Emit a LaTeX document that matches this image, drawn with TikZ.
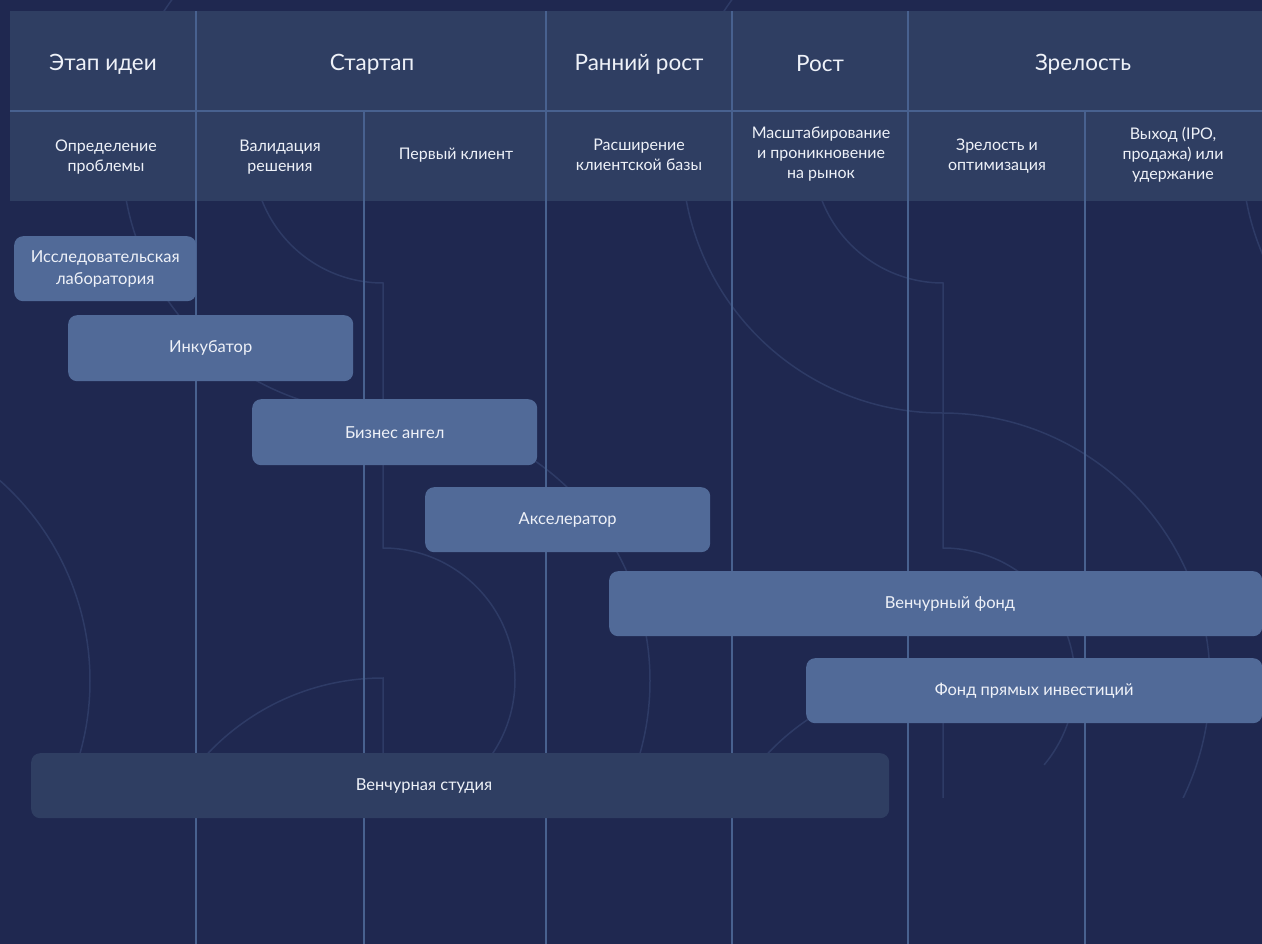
\documentclass[tikz,border=0pt]{standalone}
\usepackage{fontspec}
\setmainfont{Lato}
\definecolor{bg}{HTML}{1F2850}
\definecolor{hdr}{HTML}{2F3E62}
\definecolor{grid}{HTML}{48618F}
\definecolor{bar}{HTML}{516A98}
\definecolor{faint}{HTML}{2E3B66}
\definecolor{txt}{HTML}{EEF1F8}
\begin{document}
\begin{tikzpicture}[x=1pt,y=-1pt,
  stagetxt/.style={text=txt, font=\fontsize{22.5}{26}\selectfont, align=center, inner sep=0pt},
  subtxt/.style={text=txt, font=\fontsize{16}{20}\selectfont, align=center, inner sep=0pt},
  phasebox/.style={fill=bar, rounded corners=9pt, anchor=north west, inner sep=0pt, text=txt, font=\fontsize{16.5}{22}\selectfont, align=center},
  studiobox/.style={phasebox, fill=hdr},
  bartxt/.style={text=txt, font=\fontsize{16.5}{22}\selectfont, inner sep=0pt},
  gridline/.style={draw=grid, line width=1.5pt},
  deco/.style={draw=faint, line width=1.5pt}]
\fill[bg] (0,0) rectangle (1262,944);
\useasboundingbox (0,0) rectangle (1262,944);
% decorative motifs
\begin{scope}
\clip (0,0) rectangle (1262,797);
\foreach \xo in {-177,383,943,1503}{
  \draw[deco] (\xo-1,153) ++(240:260) arc[start angle=240,end angle=90,radius=260]
              arc[start angle=-90,end angle=40,radius=268];
  \draw[deco] (\xo,153) ++(200:130) arc[start angle=200,end angle=90,radius=130]
              -- (\xo,548) arc[start angle=-90,end angle=40,radius=132];
  \draw[deco] (\xo,800) -- (\xo,678) arc[start angle=-90,end angle=-180,radius=241];
}
\end{scope}
% column lines below header
\foreach \gx in {196,364,546,732,908,1085}{
  \draw[gridline] (\gx,201) -- (\gx,944);
}
% header
\fill[hdr] (10,11) rectangle (1262,201);
\draw[gridline] (10,111) -- (1262,111);
\foreach \gx in {196,546,732,908}{ \draw[gridline] (\gx,11) -- (\gx,111); }
\foreach \gx in {196,364,546,732,908,1085}{ \draw[gridline] (\gx,111) -- (\gx,201); }
\node[stagetxt] (st1) at (103,64) {Этап идеи};
\node[stagetxt] (st2) at (372,64) {Стартап};
\node[stagetxt] (st3) at (639,64) {Ранний рост};
\node[stagetxt] (st4) at (820,64) {Рост};
\node[stagetxt] (st5) at (1083,64) {Зрелость};
\node[subtxt] (sb1) at (106,157) {Определение\\проблемы};
\node[subtxt] (sb2) at (280,157) {Валидация\\решения};
\node[subtxt] (sb3) at (456,155) {Первый клиент};
\node[subtxt] (sb4) at (639,155) {Расширение\\клиентской базы};
\node[subtxt] (sb5) at (821,154) {Масштабирование\\и проникновение\\на рынок};
\node[subtxt] (sb6) at (997,156) {Зрелость и\\оптимизация};
\node[subtxt] (sb7) at (1173,155) {Выход (IPO,\\продажа) или\\удержание};
% bars
\node[phasebox, minimum width=182pt, minimum height=65pt] (lab) at (14,236) {Исследовательская\\лаборатория};
\node[phasebox, minimum width=285pt, minimum height=66pt] (inc) at (68,315) {Инкубатор};
\node[phasebox, minimum width=285pt, minimum height=66pt] (ang) at (252,399) {Бизнес ангел};
\node[phasebox, minimum width=285pt, minimum height=65pt] (acc) at (425,487) {Акселератор};
\node[phasebox, minimum width=653pt, minimum height=65pt] (vc) at (609,571) {};
\node[bartxt] (vct) at (950,604) {Венчурный фонд};
\node[phasebox, minimum width=456pt, minimum height=65pt] (pe) at (806,658) {Фонд прямых инвестиций};
\node[studiobox, minimum width=858pt, minimum height=65pt] (vs) at (31,753) {};
\node[bartxt] (vst) at (424,786) {Венчурная студия};
\end{tikzpicture}
\end{document}
